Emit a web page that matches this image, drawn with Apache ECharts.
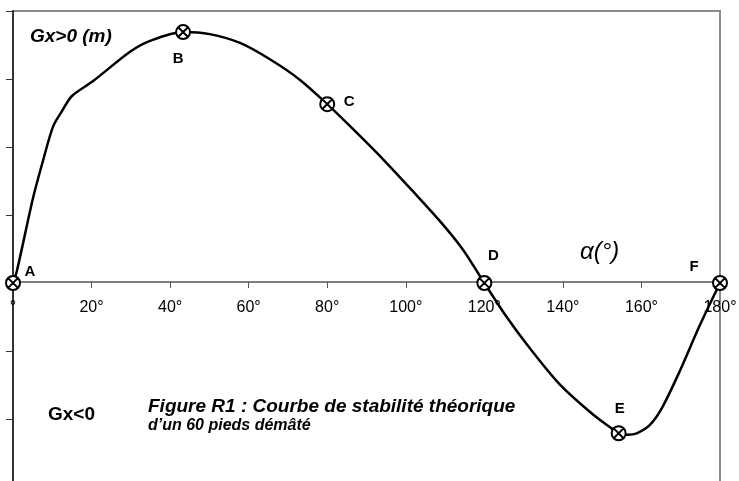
<!DOCTYPE html>
<html>
<head>
<meta charset="utf-8">
<script src="https://cdn.jsdelivr.net/npm/echarts@6/dist/echarts.min.js"></script>
<style>
html,body{margin:0;padding:0;background:#fff;}
#chart{width:739px;height:481px;}
</style>
</head>
<body>
<div id="chart"></div>
<script>
// Angle of heel (degrees) and righting lever Gx (arbitrary units)
var angles = [0, 1.0, 5.1, 7.6, 10.2, 12.5, 15.0, 20.4, 29.8, 34.9, 43.3, 50.1, 57.8, 65.4, 73.0, 80.0, 87.5, 94.7, 101.8, 108.7, 114.3, 120.0, 125.2, 130.8, 139.2, 147.6, 152.7, 154.2, 156.5, 158.8, 162.1, 165.2, 169.8, 174.8, 180];
var gx     = [0, 0.18, 1.25, 1.79, 2.30, 2.53, 2.75, 2.97, 3.40, 3.56, 3.69, 3.66, 3.53, 3.29, 2.99, 2.63, 2.21, 1.79, 1.35, 0.91, 0.51, 0.00, -0.46, -0.90, -1.49, -1.93, -2.15, -2.21, -2.23, -2.21, -2.09, -1.84, -1.29, -0.63, 0];
var pointNames  = ['A', 'B', 'C', 'D', 'E', 'F'];
var pointAngles = [0, 43.3, 80, 120, 154.2, 180];
var pointGx     = [0, 3.69, 2.63, 0, -2.21, 0];
var xTickLabels = ['°', '20°', '40°', '60°', '80°', '100°', '120°', '140°', '160°', '180°'];

var labelOffsets = {A: [17, -11], B: [-5, 27], C: [22, -2], D: [9, -27], E: [1, -24], F: [-26, -16]};

var lineData = angles.map(function (a, i) { return [a, gx[i]]; });
var pointData = pointNames.map(function (n, i) {
  return {
    name: n,
    value: [pointAngles[i], pointGx[i]],
    label: { show: true, formatter: n, position: 'inside', offset: labelOffsets[n] }
  };
});

var chart = echarts.init(document.getElementById('chart'), null, {renderer: 'canvas'});
chart.setOption({
  animation: false,
  backgroundColor: '#fff',
  grid: { left: 13, right: 19, top: 11, bottom: -6, outerBoundsMode: 'none', containLabel: false, show: true, borderColor: '#8a8a8a', borderWidth: 2, backgroundColor: 'transparent' },
  xAxis: {
    type: 'value', min: 0, max: 180, interval: 20, position: 'bottom', offset: -205,
    axisLine: { onZero: false, lineStyle: { color: '#555', width: 1.5 } },
    axisTick: { show: true, inside: false, length: 6, lineStyle: { color: '#555', width: 1 } },
    axisLabel: {
      margin: 18, color: '#000', fontFamily: 'Liberation Sans, Arial, sans-serif', fontSize: 16,
      formatter: function (v) { return xTickLabels[Math.round(v / 20)]; }
    },
    splitLine: { show: false }
  },
  yAxis: {
    type: 'value', min: -3, max: 4, interval: 1,
    axisLine: { show: true, onZero: false, lineStyle: { color: '#333', width: 2 } },
    axisTick: { show: true, inside: false, length: 7, lineStyle: { color: '#333', width: 1 } },
    axisLabel: { show: false },
    splitLine: { show: false }
  },
  graphic: [
    { type: 'text', left: 30, top: 27, style: { text: 'Gx>0 (m)', font: 'italic bold 19px "Liberation Sans", Arial, sans-serif', fill: '#000' } },
    { type: 'text', left: 580, top: 240, style: { text: 'α(°)', font: 'italic 24px "Liberation Sans", Arial, sans-serif', fill: '#000' } },
    { type: 'text', left: 48, top: 405, style: { text: 'Gx<0', font: 'bold 19px "Liberation Sans", Arial, sans-serif', fill: '#000' } },
    { type: 'text', left: 148, top: 397, style: { text: 'Figure R1 : Courbe de stabilité théorique', font: 'italic bold 19px "Liberation Sans", Arial, sans-serif', fill: '#000' } },
    { type: 'text', left: 148, top: 418, style: { text: 'd\u2019un 60 pieds démâté', font: 'italic bold 16px "Liberation Sans", Arial, sans-serif', fill: '#000' } }
  ],
  series: [
    {
      type: 'line', data: lineData, smooth: 0.3, showSymbol: false, symbol: 'none',
      lineStyle: { color: '#000', width: 2.5 }, z: 3
    },
    {
      type: 'scatter', data: pointData,
      symbol: 'path://M0,10A10,10,0,1,1,20,10A10,10,0,1,1,0,10ZM3,3L17,17M17,3L3,17',
      symbolSize: 14,
      itemStyle: { color: '#fff', borderColor: '#000', borderWidth: 2, opacity: 1 },
      label: { color: '#000', fontFamily: '"Liberation Sans Narrow", "Liberation Sans", Arial, sans-serif', fontWeight: 'bold', fontSize: 15 },
      z: 5
    }
  ]
});
</script>
</body>
</html>
